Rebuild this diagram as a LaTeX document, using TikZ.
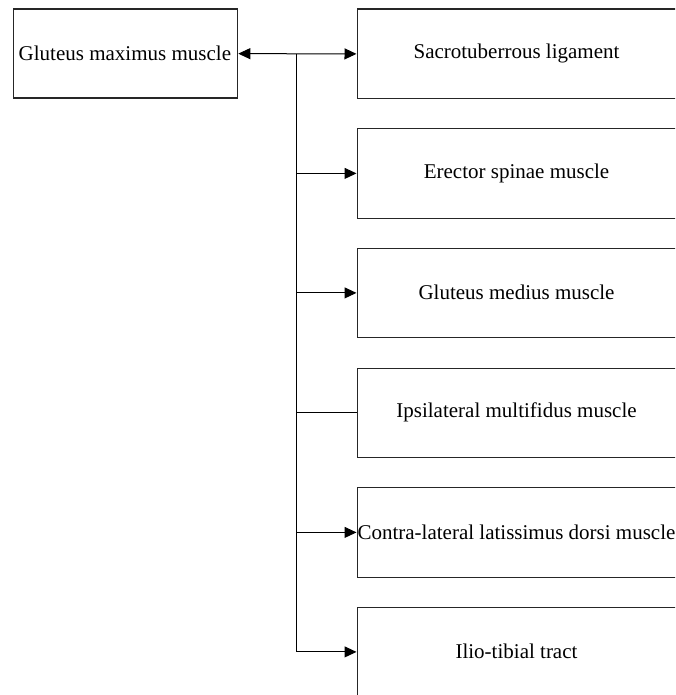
\documentclass[tikz,border=0pt]{standalone}
\usepackage{fontspec}
\setmainfont{Liberation Serif}
\usetikzlibrary{arrows.meta}
\begin{document}
\begin{tikzpicture}[x=1pt,y=-1pt,
  box/.style={draw=black!85,line width=1.3pt,rectangle,inner sep=0pt,anchor=north west},
  lbl/.style={font=\fontsize{21}{25}\selectfont,inner sep=0pt},
  link/.style={draw=black,line width=1pt},
  head/.tip={Triangle[length=12pt,width=11pt]},
  tip/.style={-head}]
\useasboundingbox (0,0) rectangle (675,695);
\clip (0,0) rectangle (675,695);
% source box
\node[box,minimum width=224.5pt,minimum height=89pt] (gm) at (12.5,8.5) {};
\node[lbl] at ([xshift=-0.5pt]gm.center) {Gluteus maximus muscle};
% target boxes, running past the right edge
\foreach \n/\t/\txt in {1/8.5/Sacrotuberrous ligament,
                        2/128/Erector spinae muscle,
                        3/247.5/Gluteus medius muscle,
                        4/367.5/Ipsilateral multifidus muscle,
                        5/487/Contra-lateral latissimus dorsi muscle,
                        6/606.5/Ilio-tibial tract}{
  \node[box,minimum width=340pt,minimum height=89.5pt] (r\n) at (356.5,\t) {};
  \node[lbl] (t\n) at (516.5,\t+45) {\txt};
}
% connectors
\coordinate (j) at (296.5,0 |- gm.east);
\draw[link,head-head] (gm.east) -- (r1.west);
\draw[link] (gm.east -| j) -- (j |- r6.west);
\draw[link,tip] (j |- r2.west) -- (r2.west);
\draw[link,tip] (j |- r3.west) -- (r3.west);
\draw[link] (j |- r4.west) -- (r4.west);
\draw[link,tip] (j |- r5.west) -- (r5.west);
\draw[link,tip] (j |- r6.west) -- (r6.west);
\end{tikzpicture}
\end{document}
